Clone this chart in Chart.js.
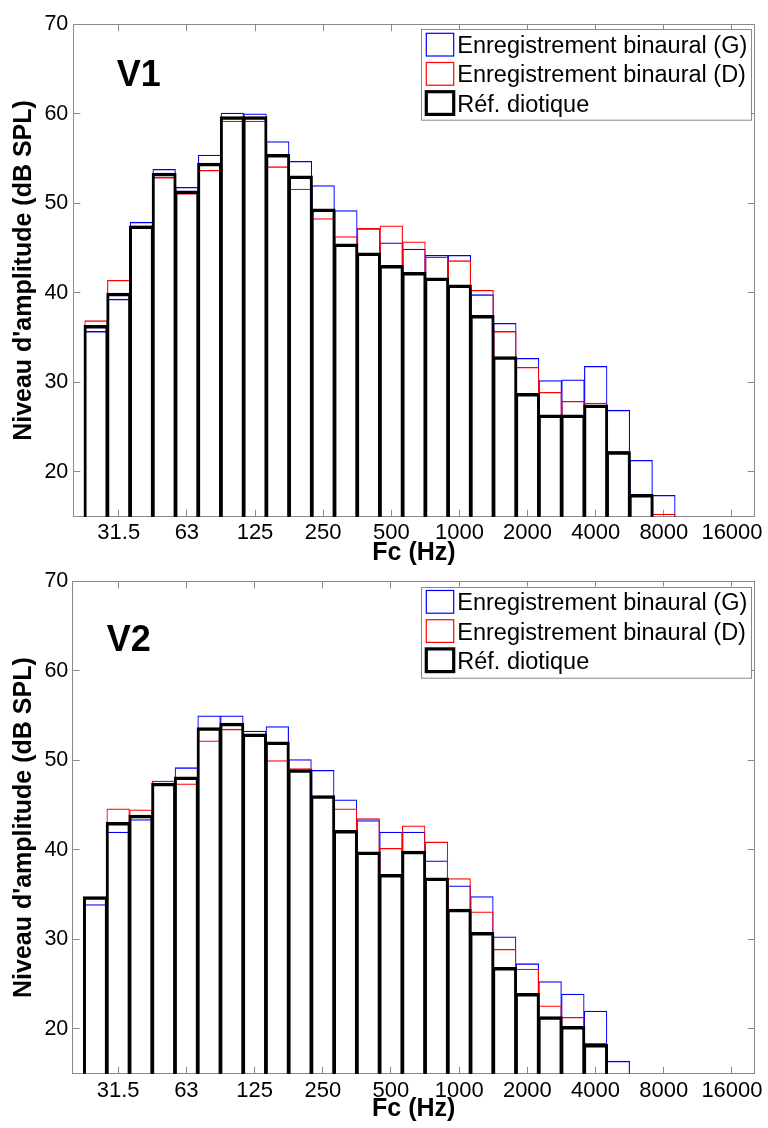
<!DOCTYPE html>
<html>
<head>
<meta charset="utf-8">
<script src="https://cdn.jsdelivr.net/npm/chart.js@4.4.1/dist/chart.umd.min.js"></script>
<style>
  body { margin: 0; background: #fff; }
  #wrap { position: relative; width: 768px; height: 1128px; overflow: hidden; background: #fff; }
  canvas { position: absolute; left: 0; }
  #chartV1 { top: 0; }
  #chartV2 { top: 560px; }
</style>
</head>
<body>
<div id="wrap">
  <canvas id="chartV1" width="768" height="572"></canvas>
  <canvas id="chartV2" width="768" height="568"></canvas>
</div>
<script>
// third-octave band centre frequencies (Hz)
const bandLabels = ['25', '31.5', '40', '50', '63', '80', '100', '125', '160', '200', '250', '315', '400',
  '500', '630', '800', '1000', '1250', '1600', '2000', '2500', '3150', '4000', '5000', '6300', '8000'];
const xTickLabels = ['31.5', '63', '125', '250', '500', '1000', '2000', '4000', '8000', '16000'];
const yTickValues = [20, 30, 40, 50, 60, 70];
const seriesNames = ['Enregistrement binaural (G)', 'Enregistrement binaural (D)', 'Réf. diotique'];

// V1 levels (dB SPL)
const v1Left  = [35.7, 39.3, 47.9, 53.8, 51.8, 55.4, 60.1, 60.0, 56.9, 54.7, 52.0, 49.2, 47.2,
  45.6, 44.9, 44.2, 44.2, 39.8, 36.6, 32.7, 30.2, 30.3, 31.8, 26.9, 21.3, 17.4];
const v1Right = [36.9, 41.4, 47.5, 52.9, 51.1, 53.7, 59.2, 59.2, 54.1, 51.6, 48.3, 46.3, 47.2,
  47.5, 45.7, 44.0, 43.6, 40.3, 35.7, 31.7, 28.9, 27.9, 27.7, 22.3, 17.4, 15.3];
const v1Ref   = [36.3, 39.9, 47.4, 53.3, 51.3, 54.4, 59.6, 59.6, 55.4, 53.0, 49.3, 45.4, 44.4,
  43.0, 42.2, 41.6, 40.8, 37.4, 32.8, 28.7, 26.3, 26.3, 27.4, 22.2, 17.4, null];

// V2 levels (dB SPL)
const v2Left  = [33.9, 42.0, 43.4, 47.7, 49.2, 55.0, 55.0, 53.3, 53.8, 50.1, 48.9, 45.6, 43.3,
  42.0, 42.0, 38.8, 36.0, 34.8, 30.3, 27.3, 25.3, 23.9, 22.0, 16.4];
const v2Right = [34.7, 44.6, 44.5, 47.7, 47.4, 52.2, 53.5, 52.9, 50.0, 49.1, 46.0, 44.6, 43.5,
  40.2, 42.7, 40.9, 36.8, 33.1, 28.9, 26.7, 22.6, 21.3, 18.4, null];
const v2Ref   = [34.7, 43.0, 43.8, 47.4, 48.1, 53.6, 54.1, 52.9, 52.0, 48.9, 46.0, 42.1, 39.7,
  37.2, 39.8, 36.8, 33.3, 30.7, 26.8, 23.9, 21.3, 20.2, 18.2, null];

const FONT = '"Liberation Sans", Arial, sans-serif';
const AXIS_GRAY = '#8a8a8a';

Chart.defaults.font.family = FONT;
Chart.defaults.color = '#000';

// band number relative to 1 kHz (one unit = one third of an octave)
function bandNo(f) {
  return Math.round(3 * Math.log2(f / 1000));
}

const xMin = bandNo(20);
const xMax = bandNo(20000);

function xLabelAt(value) {
  const hit = xTickLabels.find(l => bandNo(+l) === value);
  return hit === undefined ? '' : hit;
}

const thinEdge = { width: { top: 0.7, left: 0.55, right: 0.55, bottom: 0 }, inflate: 0.3, swatch: 1.2 };
const thickEdge = { width: { top: 1.3, left: 0.8, right: 0.8, bottom: 0 }, inflate: 1.1, swatch: 3.2 };

function barSet(label, values, color, order, edge) {
  return {
    label: label,
    data: values.map((v, i) => ({ x: bandNo(+bandLabels[i]), y: v })),
    borderColor: color,
    backgroundColor: 'rgba(0,0,0,0)',
    borderWidth: edge.width,
    inflateAmount: edge.inflate,
    borderSkipped: 'start',
    grouped: false,
    barPercentage: 1,
    categoryPercentage: 1,
    order: order,
    swatchWidth: edge.swatch
  };
}

// legend box + panel name drawn inside the plot area
const panelDecor = {
  id: 'panelDecor',
  afterDraw(chart, args, opts) {
    const ctx = chart.ctx;
    const area = chart.chartArea;
    ctx.save();

    const boxRight = area.right - 4;
    const boxLeft = boxRight - 330;
    const boxTop = area.top + 5;
    ctx.fillStyle = '#fff';
    ctx.fillRect(boxLeft, boxTop, 330, 90.7);
    ctx.strokeStyle = AXIS_GRAY;
    ctx.lineWidth = 1;
    ctx.strokeRect(Math.round(boxLeft) + 0.5, Math.round(boxTop) + 0.5, 330, 90.7);

    ctx.font = '23.5px ' + FONT;
    ctx.textBaseline = 'alphabetic';
    ctx.textAlign = 'left';
    chart.data.datasets.forEach((ds, i) => {
      const rowTop = boxTop + 4 + i * 29.2;
      ctx.strokeStyle = ds.borderColor;
      ctx.lineWidth = ds.swatchWidth;
      ctx.strokeRect(boxLeft + 5.6, rowTop, 27.4, 22.7);
      ctx.fillStyle = '#000';
      ctx.fillText(ds.label, boxLeft + 36.6, rowTop + 11.35 + 8.5);
    });

    ctx.font = 'bold 36px ' + FONT;
    ctx.fillStyle = '#000';
    ctx.fillText(opts.name, area.left + opts.nameX, area.top + opts.nameY);
    ctx.restore();
  }
};

function tickGrid() {
  return { drawOnChartArea: false, drawTicks: true, tickLength: -7, color: AXIS_GRAY, offset: false };
}

// fixed axis box, no extra room asked for overflowing labels
function fixBox(size, horizontal) {
  return s => {
    if (horizontal) s.height = size; else s.width = size;
    s.paddingLeft = 0;
    s.paddingRight = 0;
    s.paddingTop = 0;
    s.paddingBottom = 0;
  };
}

function makePanel(canvasId, name, left, right, ref, g) {
  const ctx = document.getElementById(canvasId).getContext('2d');
  return new Chart(ctx, {
    type: 'bar',
    data: {
      datasets: [
        barSet(seriesNames[0], left, 'rgb(0,0,255)', 3, thinEdge),
        barSet(seriesNames[1], right, 'rgb(255,0,0)', 2, thinEdge),
        barSet(seriesNames[2], ref, '#000', 1, thickEdge)
      ]
    },
    options: {
      responsive: false,
      animation: false,
      layout: { padding: { top: g.top, right: 13.3, left: 0, bottom: 0 } },
      plugins: {
        legend: { display: false },
        tooltip: { enabled: false },
        panelDecor: { name: name, nameX: g.nameX, nameY: g.nameY }
      },
      scales: {
        x: {
          type: 'linear',
          position: 'bottom',
          min: xMin,
          max: xMax,
          offset: false,
          afterBuildTicks: s => { s.ticks = xTickLabels.map(l => ({ value: bandNo(+l) })); },
          afterFit: fixBox(g.xAxisH, true),
          ticks: {
            autoSkip: false, maxRotation: 0, minRotation: 0,
            padding: g.xTickPad, font: { size: 22 }, color: '#000',
            callback: v => xLabelAt(v)
          },
          grid: tickGrid(),
          border: { color: AXIS_GRAY, width: 1 },
          title: {
            display: true, text: 'Fc (Hz)', color: '#000',
            font: { size: 25, weight: 'bold' },
            padding: { top: 0, bottom: g.xTitlePad }
          }
        },
        x2: {
          type: 'linear',
          position: 'top',
          min: xMin,
          max: xMax,
          offset: false,
          afterBuildTicks: s => { s.ticks = xTickLabels.map(l => ({ value: bandNo(+l) })); },
          afterFit: fixBox(0, true),
          ticks: { display: false },
          grid: tickGrid(),
          border: { color: AXIS_GRAY, width: 1 }
        },
        y: {
          type: 'linear',
          position: 'left',
          min: 15,
          max: 70,
          afterBuildTicks: s => { s.ticks = yTickValues.map(v => ({ value: v })); },
          afterFit: fixBox(g.yAxisW, false),
          ticks: { padding: g.yTickPad, font: { size: 21.5 }, color: '#000' },
          grid: tickGrid(),
          border: { color: AXIS_GRAY, width: 1 },
          title: {
            display: true, text: "Niveau d'amplitude (dB SPL)", color: '#000',
            font: { size: 25, weight: 'bold' },
            padding: { top: g.yTitlePad, bottom: 0 }
          }
        },
        y2: {
          type: 'linear',
          position: 'right',
          min: 15,
          max: 70,
          afterBuildTicks: s => { s.ticks = yTickValues.map(v => ({ value: v })); },
          afterFit: fixBox(0, false),
          ticks: { display: false },
          grid: tickGrid(),
          border: { color: AXIS_GRAY, width: 1 }
        }
      }
    },
    plugins: [panelDecor]
  });
}

makePanel('chartV1', 'V1', v1Left, v1Right, v1Ref, {
  top: 24.3, yAxisW: 73.3, xAxisH: 55.3,
  xTickPad: 9.8, xTitlePad: 3.4, yTickPad: 12, yTitlePad: 9.6,
  nameX: 43.4, nameY: 61.7
});

makePanel('chartV2', 'V2', v2Left, v2Right, v2Ref, {
  top: 21.5, yAxisW: 72.7, xAxisH: 54.3,
  xTickPad: 11.4, xTitlePad: 4.3, yTickPad: 11.4, yTitlePad: 9.6,
  nameX: 34, nameY: 69.2
});
</script>
</body>
</html>
